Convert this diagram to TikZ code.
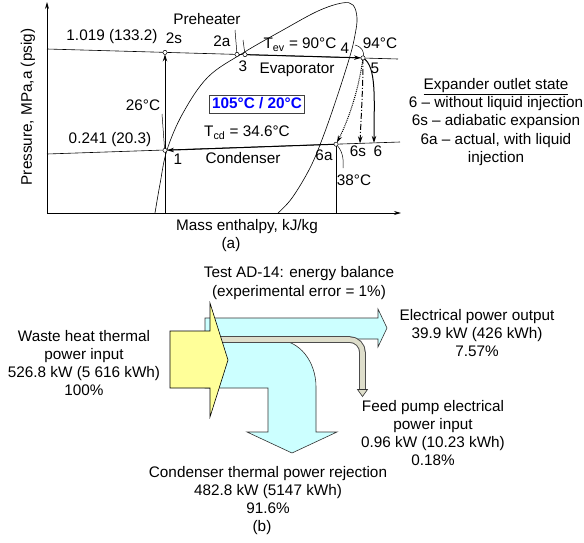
\documentclass[tikz,border=0pt]{standalone}
\usepackage{fontspec}
\setmainfont{Liberation Sans}
\usetikzlibrary{arrows.meta}
\definecolor{cyanfill}{HTML}{CCFFFF}
\definecolor{yellowfill}{HTML}{FFFF99}
\definecolor{pipefill}{HTML}{DEDECB}
\definecolor{boxblue}{HTML}{0000FF}
\begin{document}
\begin{tikzpicture}[x=1pt,y=-1pt,
  font=\fontsize{15.3}{18.3}\selectfont,
  txt/.style={inner sep=0pt, align=center, text height=11pt, text depth=3.2pt},
  txtm/.style={inner sep=0pt, align=center},
  thinline/.style={line width=0.6pt},
  leader/.style={line width=0.5pt},
  proc/.style={line width=1pt, -{Stealth[length=7pt,width=4.5pt]}},
  axisarrow/.style={line width=0.8pt, -{Stealth[length=7pt,width=4pt]}},
  ptc/.style={circle, draw, fill=white, inner sep=0pt, minimum size=4.2pt, line width=0.5pt},
  flow/.style={draw=black!80, line width=0.6pt}]
\useasboundingbox (0,0) rectangle (584,542);

% ---------------- (a) ----------------
\coordinate (O) at (47,213);
\coordinate (Ytop) at (47,2);
\coordinate (Xend) at (401,213);
\draw[axisarrow] (O) -- (Ytop);
\draw[axisarrow] (O) -- (Xend);

\coordinate (HL) at (47,49);
\coordinate (HR) at (398,59);
\coordinate (LL) at (47,154);
\coordinate (LR) at (400,142);
\draw[thinline] (HL) -- (HR);
\draw[thinline] (LL) -- (LR);

\coordinate (P1) at (165,150.3);
\coordinate (P2s) at (165,52.4);
\coordinate (P2a) at (237,54.4);
\coordinate (P3) at (245,54.6);
\coordinate (P5) at (363,57.9);
\coordinate (P6a) at (336,144.2);
\coordinate (P6s) at (360,143.4);
\coordinate (P6) at (374,142.9);
\coordinate (B1) at (165,213);
\coordinate (B6a) at (336,213);

% saturation dome
\draw[thinline] plot[smooth, tension=0.6] coordinates {(155,213) (160,184) (167,150) (183,113) (208,77) (243,53) (283,30) (318,11) (342,3) (353,5) (357,18) (355,35) (350,56) (337,97) (323,137) (310,168) (292,198) (278,213)};

\draw[thinline] (P1) -- (B1);
\draw[thinline] (P6a) -- (B6a);

% processes
\draw[proc, shorten >=2pt] (P1) -- (P2s);
\draw[proc, shorten >=2pt] (P3) -- (P5);
\draw[proc, shorten >=2pt] (P6a) -- (P1);
\draw[proc] (P5) .. controls (377,66) and (374,100) .. (P6);
\draw[proc, dash pattern=on 6pt off 2pt on 1pt off 2pt] (P5) .. controls (363,90) and (361,118) .. (P6s);
\draw[proc, densely dotted, shorten >=2pt] (P5) .. controls (358,95) and (346,125) .. (P6a);

% leaders
\coordinate (L26a) at (162,114);
\coordinate (L26b) at (164.5,148);
\draw[leader] (L26a) -- (L26b);
\coordinate (Lpa) at (235,30);
\coordinate (Lpb) at (243,40);
\draw[leader] (Lpa) -- (P2a);
\draw[leader] (Lpb) -- (P3);
\coordinate (L94) at (355,45);
\draw[leader] (L94) .. controls (362,47) and (365,52) .. (P5);
\coordinate (L38) at (343,168);
\draw[leader] (P6a) .. controls (342,150) and (344,158) .. (L38);

% state circles
\node[ptc] (c1) at (P1) {};
\node[ptc] (c2s) at (P2s) {};
\node[ptc] (c2a) at (P2a) {};
\node[ptc] (c3) at (P3) {};
\node[ptc] (c5) at (P5) {};
\node[ptc] (c6a) at (P6a) {};

% labels (a)
\node[txt, rotate=90] (ylab) at (28,107) {Pressure, MPa,a (psig)};
\node[txt] (tph) at (207,21) {Preheater};
\node[txt] (thp) at (112,37) {1.019 (133.2)};
\node[txt] (t2s) at (174,40) {2s};
\node[txt] (t2a) at (222,43) {2a};
\node[txt] (t3) at (243,68) {3};
\node[txt] (tev) at (300,45) {T\textsubscript{ev} = 90°C};
\node[txt] (t4) at (345,50) {4};
\node[txt] (t94) at (380,45) {94°C};
\node[txt] (t5) at (375,70) {5};
\node[txt] (tevap) at (297,70) {Evaporator};
\node[draw=black!75, line width=1.3pt, fill=white, text=boxblue, inner xsep=3pt, inner ysep=2pt,
      text height=11pt, text depth=3.2pt, font=\fontsize{15.3}{18.3}\selectfont\bfseries] (tbox) at (257,104.5) {105°C / 20°C};
\node[txt] (t26) at (143,107) {26°C};
\node[txt] (tlp) at (110,140) {0.241 (20.3)};
\node[txt] (tcd) at (247,133) {T\textsubscript{cd} = 34.6°C};
\node[txt] (t1) at (178,161) {1};
\node[txt] (tcond) at (243,160) {Condenser};
\node[txt] (t6a) at (324,157) {6a};
\node[txt] (t6s) at (358,153) {6s};
\node[txt] (t6) at (378,153) {6};
\node[txt] (t38) at (354,182) {38°C};
\node[txt] (txlab) at (247,227) {Mass enthalpy, kJ/kg};
\node[txt] (ta) at (231,245) {(a)};
\node[txtm] (tleg) at (496,122) {\underline{Expander outlet state}\\6 – without liquid injection\\6s – adiabatic expansion\\6a – actual, with liquid\\injection};

% ---------------- (b) ----------------
\draw[flow, fill=cyanfill] (205,318) -- (378,318) -- (378,309) -- (387,328) -- (378,347) -- (378,339) -- (205,339) -- cycle;
\draw[flow, fill=cyanfill] (205,340) -- (277,340) .. controls (300,340) and (316,362) .. (316,387) -- (316,432) -- (337,432) -- (292,453) -- (247,432) -- (268,432) -- (268,388) -- (205,388) -- cycle;
% feed pump pipe
\coordinate (pipeA) at (212,339.5);
\coordinate (pipeC) at (362.5,339.5);
\coordinate (pipeB) at (362.5,390);
\draw[line width=6.6pt, black!70, rounded corners=13pt] (pipeA) -- (pipeC) -- (pipeB);
\draw[line width=4.6pt, pipefill, rounded corners=13pt] (pipeA) -- (pipeC) -- ([yshift=0.6pt]pipeB);
\draw[flow, fill=pipefill] (357.5,389.5) -- (367.5,389.5) -- (362.5,396.5) -- cycle;
% waste heat arrow
\draw[flow, draw=black, fill=yellowfill] (170,331) -- (210,331) -- (210,303) -- (228,360) -- (210,417) -- (210,388) -- (170,388) -- cycle;

\node[txtm] (ttest) at (299,283) {Test AD-14: energy balance\\(experimental error = 1\%)};
\node[txtm] (twaste) at (84,363) {Waste heat thermal\\power input\\526.8 kW (5 616 kWh)\\100\%};
\node[txtm] (telec) at (477,333) {Electrical power output\\39.9 kW (426 kWh)\\7.57\%};
\node[txtm] (tfeed) at (433,433) {Feed pump electrical\\power input\\0.96 kW (10.23 kWh)\\0.18\%};
\node[txtm] (tcondr) at (268,490) {Condenser thermal power rejection\\482.8 kW (5147 kWh)\\91.6\%};
\node[txt] (tb) at (262,528) {(b)};
\end{tikzpicture}
\end{document}
